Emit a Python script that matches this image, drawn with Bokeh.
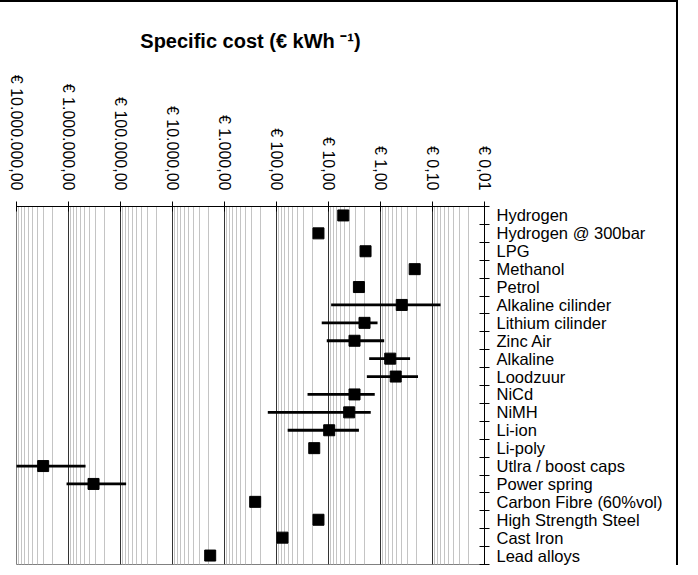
import math
from bokeh.plotting import figure
from bokeh.models import Range1d, FixedTicker, CustomJSTickFormatter, ColumnDataSource
from bokeh.embed import file_html
from bokeh.resources import INLINE

nan = float("nan")

categories = ["Hydrogen", "Hydrogen @ 300bar", "LPG", "Methanol", "Petrol",
              "Alkaline cilinder", "Lithium cilinder", "Zinc Air", "Alkaline", "Loodzuur",
              "NiCd", "NiMH", "Li-ion", "Li-poly", "Utlra / boost caps",
              "Power spring", "Carbon Fibre (60%vol)", "High Strength Steel", "Cast Iron", "Lead alloys"]

cost = [5.2, 15.6, 1.94, 0.22, 2.6,
        0.39, 2.03, 3.16, 0.65, 0.51,
        3.16, 4.0, 9.7, 18.8, 3.07e6,
        3.3e5, 257, 15.6, 76.7, 1884]

cost_max = [nan, nan, nan, nan, nan,
            8.9, 13.5, 10.8, 1.65, 1.83,
            25.3, 147, 61, nan, 1.09e7,
            1.09e6, nan, nan, nan, nan]

cost_min = [nan, nan, nan, nan, nan,
            0.070, 1.14, 0.85, 0.27, 0.19,
            1.29, 1.54, 2.6, nan, 4.7e5,
            7.8e4, nan, nan, nan, nan]

tick_values = [1e7, 1e6, 1e5, 1e4, 1e3, 1e2, 1e1, 1e0, 1e-1, 1e-2]
tick_labels = ["€ 10.000.000,00", "€ 1.000.000,00", "€ 100.000,00", "€ 10.000,00",
               "€ 1.000,00", "€ 100,00", "€ 10,00", "€ 1,00", "€ 0,10", "€ 0,01"]

title_text = "Specific cost (€ kWh \u207b\u00b9)"

rows = list(range(len(categories)))
row_y = [r + 0.5 for r in rows]

src = ColumnDataSource(dict(cat=categories, y=row_y, cost=cost, lo=cost_min, hi=cost_max))

p = figure(width=678, height=565, x_axis_type="log",
           x_range=Range1d(1e7, 0.01), y_range=Range1d(len(categories), 0),
           x_axis_location="above", y_axis_location="right",
           output_backend="svg", toolbar_location=None,
           min_border_left=16, min_border_right=194, min_border_top=204, min_border_bottom=3,
           title=title_text)

p.styles = {"border-top": "2px solid #000", "border-right": "2px solid #000"}

p.title.text_font = "Liberation Sans"
p.title.text_font_size = "20px"
p.title.text_font_style = "bold"
p.title.text_color = "black"
p.title.align = "center"
p.title.standoff = 40

p.outline_line_color = "#808080"
p.background_fill_color = "white"

# x axis
minor = [m * 10.0 ** k for k in range(-2, 7) for m in range(2, 10)]
xt = FixedTicker(ticks=tick_values, minor_ticks=minor)
xa = p.xaxis[0]
xa.ticker = xt
xa.formatter = CustomJSTickFormatter(args=dict(vals=tick_values, labs=tick_labels), code="""
for (let i = 0; i < vals.length; i++) {
  if (Math.abs(Math.log10(tick) - Math.log10(vals[i])) < 1e-6) return labs[i];
}
return "";
""")
xa.major_label_orientation = -math.pi / 2
xa.major_label_text_font = "Liberation Sans"
xa.major_label_text_font_size = "16px"
xa.major_label_text_color = "black"
xa.major_label_standoff = 11
xa.major_tick_in = 5
xa.major_tick_out = 5
xa.major_tick_line_color = "black"
xa.minor_tick_line_color = None
xa.axis_line_color = "black"

p.xgrid.ticker = xt
p.xgrid.grid_line_color = "#333333"
p.xgrid.minor_grid_line_color = "#c4c4c4"
p.ygrid.visible = False

# y axis
ya = p.yaxis[0]
ya.ticker = FixedTicker(ticks=row_y, minor_ticks=list(range(len(categories) + 1)))
ya.formatter = CustomJSTickFormatter(args=dict(labels=categories),
                                     code="return labels[Math.floor(tick)];")
ya.major_tick_line_color = None
ya.major_tick_out = 0
ya.major_tick_in = 0
ya.minor_tick_in = 5
ya.minor_tick_out = 5
ya.minor_tick_line_color = "black"
ya.axis_line_color = "black"
ya.major_label_text_font = "Liberation Sans"
ya.major_label_text_font_size = "16.5px"
ya.major_label_text_color = "black"
ya.major_label_standoff = 7

p.segment(x0="lo", x1="hi", y0="y", y1="y", source=src, line_color="black", line_width=2.8)
p.scatter(x="cost", y="y", source=src, marker="square", size=11, fill_color="black", line_color="black")

open("out.html", "w").write(file_html(p, INLINE))
